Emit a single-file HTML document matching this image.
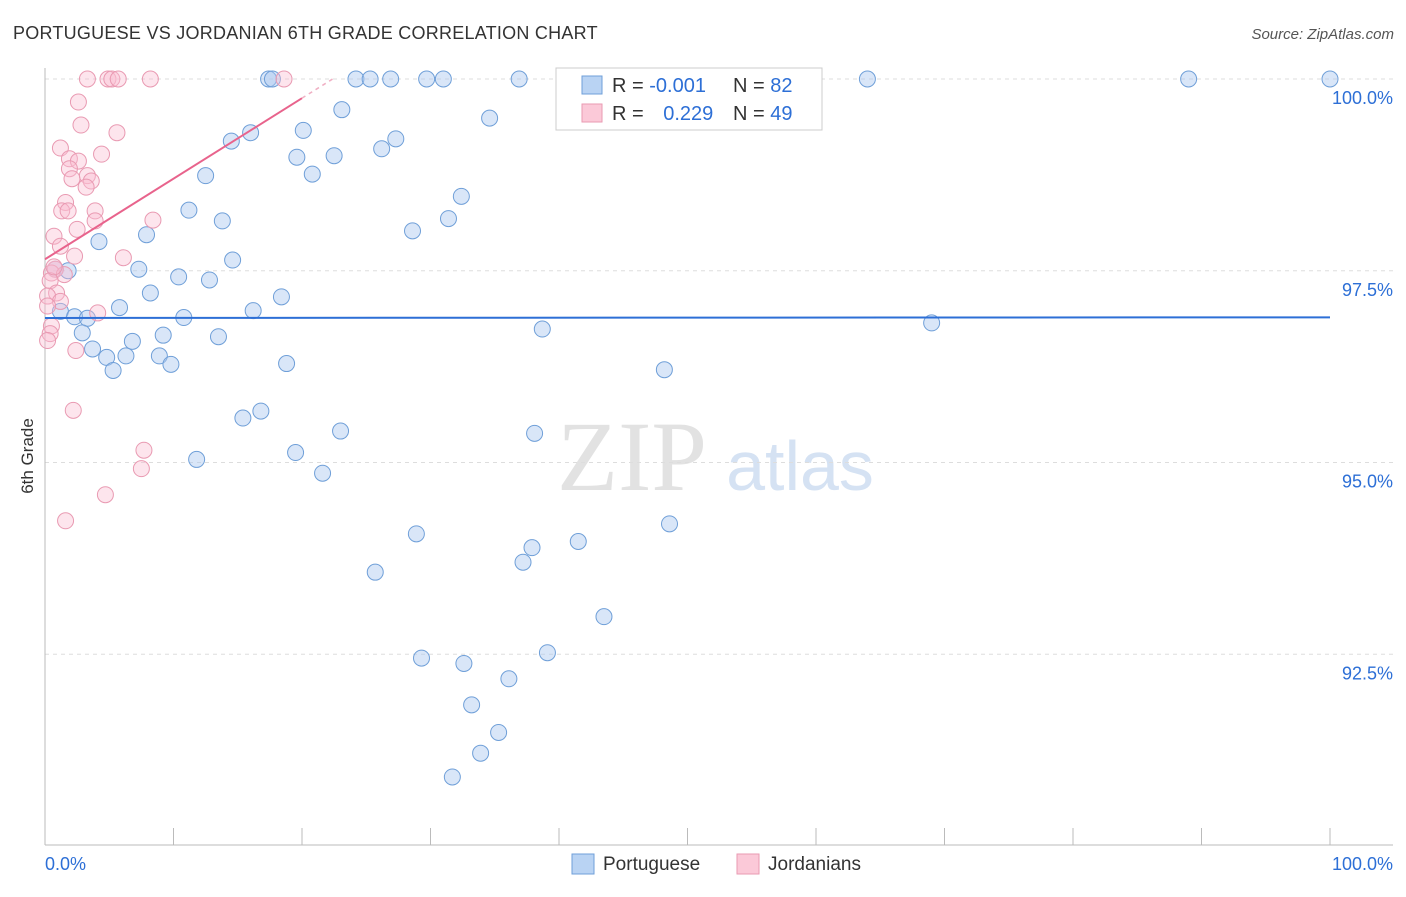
<!DOCTYPE html>
<html><head><meta charset="utf-8"><style>
body{margin:0;background:#fff;font-family:"Liberation Sans",sans-serif;}
</style></head><body>
<svg width="1406" height="892" xmlns="http://www.w3.org/2000/svg" font-family="Liberation Sans, sans-serif">
<text x="13" y="39" font-size="18" fill="#333" letter-spacing="0.25">PORTUGUESE VS JORDANIAN 6TH GRADE CORRELATION CHART</text>
<text x="1394" y="39" font-size="15" fill="#555" text-anchor="end" font-style="italic">Source: ZipAtlas.com</text>
<text transform="translate(33,456) rotate(-90)" font-size="17" fill="#333" text-anchor="middle">6th Grade</text>
<g>
<text x="632" y="490" font-size="100" fill="#e2e2e2" font-family="Liberation Serif, serif" text-anchor="middle">ZIP</text>
<text x="800" y="490" font-size="70" fill="#d5e2f3" text-anchor="middle">atlas</text>
</g>
<g id="grid"></g>
<g id="axes"></g>
<g id="marks"></g>
<g>
<rect x="556" y="68" width="266" height="62" fill="#fff" stroke="#ccc"/>
<rect x="582" y="76" width="20" height="18" fill="#b9d3f3" stroke="#6f9fd8"/>
<rect x="582" y="104" width="20" height="18" fill="#fbc9d8" stroke="#e99ab2"/>
<text x="612" y="92" font-size="20" fill="#333">R = <tspan fill="#2d6fd6">-0.001</tspan></text>
<text x="733" y="92" font-size="20" fill="#333">N = <tspan fill="#2d6fd6">82</tspan></text>
<text x="612" y="120" font-size="20" fill="#333">R = <tspan fill="#2d6fd6" dx="14">0.229</tspan></text>
<text x="733" y="120" font-size="20" fill="#333">N = <tspan fill="#2d6fd6">49</tspan></text>
</g>
<g>
<rect x="572" y="854" width="22" height="20" fill="#b9d3f3" stroke="#6f9fd8"/>
<text x="603" y="870" font-size="19" fill="#333">Portuguese</text>
<rect x="737" y="854" width="22" height="20" fill="#fbc9d8" stroke="#e99ab2"/>
<text x="768" y="870" font-size="19" fill="#333">Jordanians</text>
</g>
</svg>
<script>
const yTicks=[100,97.5,95,92.5];
const yTickLabels=["100.0%","97.5%","95.0%","92.5%"];
const xTickLabels=["0.0%","100.0%"];
const blueX=[17.4,17.7,24.2,25.3,26.9,29.7,31,36.9,45.4,51.3,64,89,100,23.1,34.6,20.1,16,14.5,27.3,26.2,19.6,22.5,20.8,12.5,32.4,11.2,13.8,31.4,28.6,7.9,4.2,14.6,7.3,1.8,0.8,10.4,12.8,8.2,18.4,1.2,5.8,16.2,2.3,3.3,10.8,38.7,69,2.9,9.2,13.5,6.8,3.7,4.8,6.3,8.9,5.3,9.8,18.8,48.2,16.8,15.4,23,38.1,19.5,11.8,21.6,28.9,48.6,41.5,37.9,37.2,25.7,43.5,29.3,32.6,39.1,36.1,33.2,35.3,33.9,31.7];
const blueY=[100,100,100,100,100,100,100,100,100,100,100,100,100,99.6,99.49,99.33,99.3,99.19,99.22,99.09,98.98,99,98.76,98.74,98.47,98.29,98.15,98.18,98.02,97.97,97.88,97.64,97.52,97.5,97.52,97.42,97.38,97.21,97.16,96.97,97.02,96.98,96.9,96.88,96.89,96.74,96.82,96.69,96.66,96.64,96.58,96.48,96.37,96.39,96.39,96.2,96.28,96.29,96.21,95.67,95.58,95.41,95.38,95.13,95.04,94.86,94.07,94.2,93.97,93.89,93.7,93.57,92.99,92.45,92.38,92.52,92.18,91.84,91.48,91.21,90.9];
const pinkX=[3.3,4.9,5.2,5.7,8.2,18.6,2.6,2.8,5.6,1.2,4.4,1.9,2.6,1.9,2.1,3.3,3.6,3.2,1.6,1.3,1.8,3.9,8.4,3.9,0.7,2.5,1.2,2.3,6.1,0.8,0.5,1.5,0.4,0.9,0.2,1.2,4.1,0.5,0.4,0.2,2.4,2.2,7.7,7.5,4.7,1.6,0.7,0.2];
const pinkY=[100,100,100,100,100,100,99.7,99.4,99.3,99.1,99.02,98.96,98.93,98.83,98.7,98.74,98.67,98.59,98.39,98.28,98.28,98.28,98.16,98.15,97.95,98.04,97.82,97.69,97.67,97.52,97.47,97.45,97.37,97.21,97.17,97.1,96.95,96.78,96.68,96.59,96.46,95.68,95.16,94.92,94.58,94.24,97.55,97.04];
const NS="http://www.w3.org/2000/svg";
const X0=45,X1=1330,YT=79,PX=76.7;
const sx=v=>X0+(X1-X0)*v/100;
const sy=v=>YT+(100-v)*PX;
function mk(tag,attrs,parent){const e=document.createElementNS(NS,tag);for(const k in attrs)e.setAttribute(k,attrs[k]);document.getElementById(parent).appendChild(e);return e;}
yTicks.forEach((t,i)=>{
  const g=mk('line',{x1:45,x2:1393,y1:sy(t),y2:sy(t),stroke:'#ddd','stroke-dasharray':'4,4'},'grid');
  
  
  const l=mk('text',{x:1393,y:sy(t)+25,'text-anchor':'end','font-size':18,fill:'#2d6fd6'},'grid');
  l.textContent=yTickLabels[i];
  
  
});
let a=mk('line',{x1:45,x2:1393,y1:845,y2:845,stroke:'#bbb'},'axes');


a=mk('line',{x1:45,x2:45,y1:68,y2:845,stroke:'#bbb'},'axes');


for(let i=0;i<=10;i++){
  const t=mk('line',{x1:sx(i*10),x2:sx(i*10),y1:828,y2:845,stroke:'#bbb'},'axes');
  
  
}
[[0,'start',45],[100,'end',1393]].forEach((d,i)=>{
  const t=mk('text',{x:d[2],y:870,'text-anchor':d[1],'font-size':18,fill:'#2d6fd6'},'axes');
  t.textContent=xTickLabels[i];
  
  
});
blueX.forEach((x,i)=>{
  const c=mk('circle',{cx:sx(x),cy:sy(blueY[i]),r:8,fill:'rgba(170,200,240,0.45)',stroke:'#6f9fd8','stroke-width':1},'marks');
  
  
});
pinkX.forEach((x,i)=>{
  const c=mk('circle',{cx:sx(x),cy:sy(pinkY[i]),r:8,fill:'rgba(250,190,210,0.4)',stroke:'#e99ab2','stroke-width':1},'marks');
  
  
});
function fit(xs,ys){const n=xs.length;const mx=xs.reduce((a,b)=>a+b)/n,my=ys.reduce((a,b)=>a+b)/n;let sxy=0,sxx=0;xs.forEach((x,i)=>{sxy+=(x-mx)*(ys[i]-my);sxx+=(x-mx)**2});const b=sxy/sxx;return [my-b*mx,b];}
const [ba,bb]=fit(blueX,blueY);
let ln=mk('line',{x1:sx(0),y1:sy(ba),x2:sx(100),y2:sy(ba+bb*100),stroke:'#2d6fd6','stroke-width':2},'marks');


const pa=97.65,pb=(99.75-97.65)/20;
ln=mk('line',{x1:sx(0),y1:sy(pa),x2:sx(20),y2:sy(pa+pb*20),stroke:'#e8638c','stroke-width':2},'marks');


ln=mk('line',{x1:sx(20),y1:sy(pa+pb*20),x2:sx(22.5),y2:sy(pa+pb*22.5),stroke:'#f0b0c4','stroke-width':1.5,'stroke-dasharray':'4,4'},'marks');


</script>
</body></html>
